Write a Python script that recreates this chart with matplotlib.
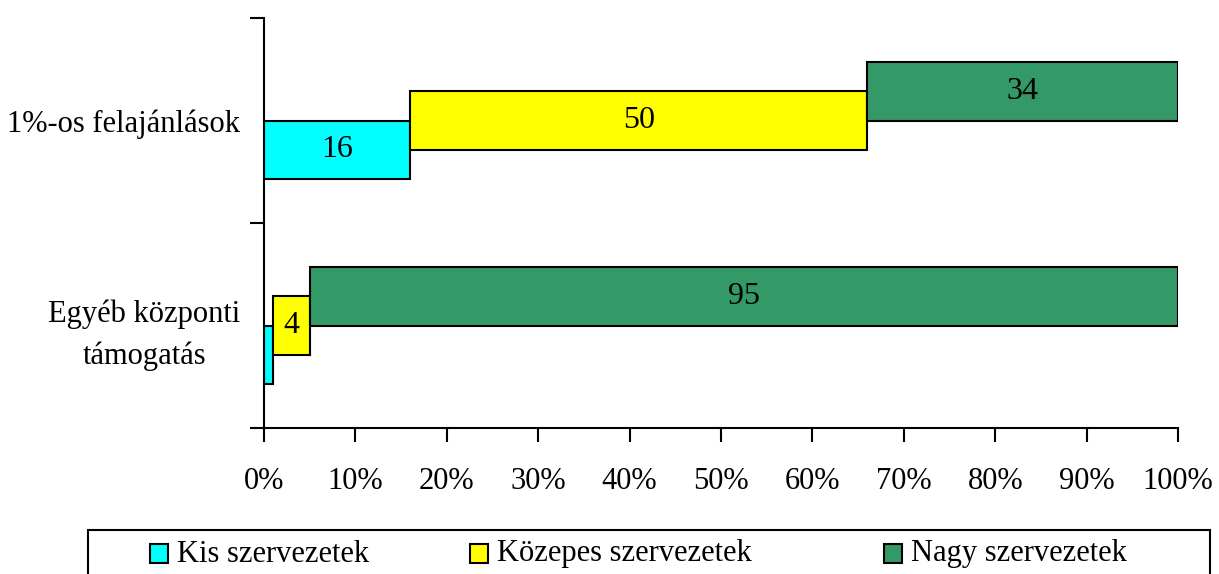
import numpy as np
import matplotlib
matplotlib.use('Agg')
import matplotlib.pyplot as plt
from matplotlib.patches import Rectangle
from matplotlib.ticker import FixedLocator, FuncFormatter

plt.rc('font', size=22, family='Liberation Serif')

categories = ['Egyéb központi\ntámogatás', '1%-os felajánlások']
series = ['Kis szervezetek', 'Közepes szervezetek', 'Nagy szervezetek']
kis = [1, 16]
kozepes = [4, 50]
nagy = [95, 34]
colors = ['#00FFFF', '#FFFF00', '#339966']

fig = plt.figure(figsize=(12.19, 5.74), dpi=100)
ax = fig.add_axes([264/1219, 1-428/574, 914/1219, 410/574])

ypos = np.arange(len(categories)) + 0.5
h = 0.285
offsets = [-h/2, 0, h/2]
left = np.zeros(len(categories))
for vals, col, off in zip([kis, kozepes, nagy], colors, offsets):
    vals = np.array(vals, dtype=float)
    ax.barh(ypos + off, vals, height=h, left=left, color=col,
            edgecolor='black', linewidth=1.5)
    for y, l, v in zip(ypos + off, left, vals):
        if v >= 2:
            ax.text(l + v/2, y, '%d' % v, ha='center', va='center', fontsize=23)
    left += vals

ax.set_xlim(0, 100)
ax.set_ylim(0, 2)
ax.set_xticks(np.arange(0, 101, 10))
ax.xaxis.set_major_formatter(FuncFormatter(lambda x, p: '%d%%' % x))
ax.set_yticks(ypos)
ax.set_yticklabels(categories, multialignment='center', linespacing=1.55)
ax.yaxis.set_minor_locator(FixedLocator([0, 1, 2]))
ax.tick_params(axis='y', which='major', length=0, pad=17)
ax.tick_params(axis='y', which='minor', length=10, width=1.5)
ax.tick_params(axis='x', length=10, width=1.5, pad=18)
for s in ['top', 'right']:
    ax.spines[s].set_visible(False)
for s in ['left', 'bottom']:
    ax.spines[s].set_linewidth(1.5)

# legend box along the bottom edge
fig.patches.append(Rectangle((88/1219, -0.05), 1122/1219, 0.05 + 44/574,
                             transform=fig.transFigure, fill=False,
                             edgecolor='black', linewidth=1.5))
sq_x = [150, 470, 884]
for name, col, x in zip(series, colors, sq_x):
    fig.patches.append(Rectangle((x/1219, 1-563/574), 18/1219, 19/574,
                                 transform=fig.transFigure, facecolor=col,
                                 edgecolor='black', linewidth=1.5))
    fig.text((x + 27)/1219, 1-554/574, name, ha='left', va='center', fontsize=22)

plt.savefig('out.png', dpi=100)
